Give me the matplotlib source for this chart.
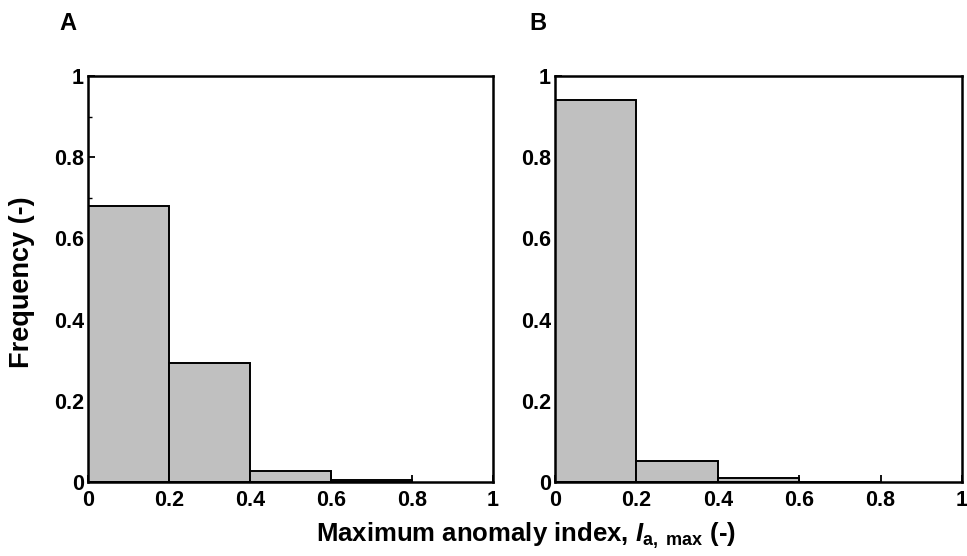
import matplotlib
matplotlib.use("Agg")
import matplotlib.pyplot as plt
from matplotlib.ticker import MultipleLocator

plt.rcParams["font.family"] = ["Liberation Sans", "DejaVu Sans"]
plt.rcParams["font.weight"] = "bold"
plt.rcParams["mathtext.fontset"] = "custom"
plt.rcParams["mathtext.rm"] = "Liberation Sans:bold"
plt.rcParams["mathtext.it"] = "Liberation Sans:italic:bold"
plt.rcParams["mathtext.bf"] = "Liberation Sans:bold"

# Histogram data (left bin edges and relative frequencies)
bin_left = [0.0, 0.2, 0.4, 0.6]
freq_a = [0.68, 0.293, 0.026, 0.004]
freq_b = [0.941, 0.051, 0.009, 0.0]
tick_vals = [0, 0.2, 0.4, 0.6, 0.8, 1]
tick_labels = ["0", "0.2", "0.4", "0.6", "0.8", "1"]

fig = plt.figure(figsize=(9.67, 5.56), dpi=100)
ax_a = fig.add_axes([88 / 967, 1 - 482 / 556, 405 / 967, 406 / 556])
ax_b = fig.add_axes([555 / 967, 1 - 482 / 556, 407 / 967, 406 / 556])

for ax, freq, minor in [(ax_a, freq_a, True), (ax_b, freq_b, False)]:
    ax.bar(bin_left, freq, width=0.2, align="edge", color="#c0c0c0",
           edgecolor="black", linewidth=1.4, zorder=2)
    ax.set_xlim(0, 1)
    ax.set_ylim(0, 1)
    ax.set_xticks(tick_vals)
    ax.set_xticklabels(tick_labels)
    ax.set_yticks(tick_vals)
    ax.set_yticklabels(tick_labels)
    if minor:
        ax.yaxis.set_minor_locator(MultipleLocator(0.1))
    ax.tick_params(direction="in", length=5, width=1.3, labelsize=15.5, pad=3)
    ax.tick_params(which="minor", direction="in", length=3, width=1.0)
    ax.tick_params(axis="x", pad=6)
    for lbl in ax.get_xticklabels() + ax.get_yticklabels():
        lbl.set_fontweight("bold")
    for sp in ax.spines.values():
        sp.set_linewidth(1.8)

fig.text(68 / 967, 1 - 24 / 556, "A", fontsize=17, fontweight="bold", ha="center", va="center")
fig.text(538 / 967, 1 - 24 / 556, "B", fontsize=17, fontweight="bold", ha="center", va="center")

fig.text(22 / 967, 1 - 282 / 556, "Frequency (-)", rotation=90, fontsize=19.5,
         fontweight="bold", ha="center", va="center")
fig.text(526 / 967, 1 - 536 / 556, r"Maximum anomaly index, $I_{\mathrm{a,\ max}}$ (-)",
         fontsize=18.5, fontweight="bold", ha="center", va="center")

fig.savefig("out.png", dpi=100)
